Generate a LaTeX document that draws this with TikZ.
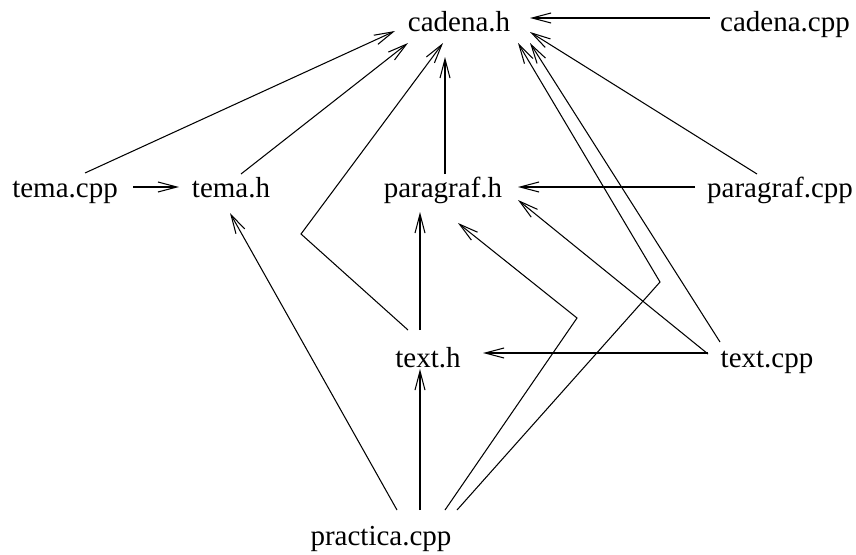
\documentclass[tikz,border=0pt]{standalone}
\usepackage{fontspec}
\setmainfont{Liberation Serif}
\usetikzlibrary{arrows.meta}
\begin{document}
\begin{tikzpicture}[x=1pt,y=-1pt,
  lbl/.style={anchor=base,inner sep=0pt,font=\fontsize{29}{34}\selectfont},
  arr/.style={draw=black,line width=1.05pt,line join=miter,
    -{Straight Barb[length=19pt,width=10pt,line width=1.05pt]}}]
\path[use as bounding box] (0,0) rectangle (856,554);
\node[lbl] (CH) at (459,31) {cadena.h};
\node[lbl] (CC) at (785,31) {cadena.cpp};
\node[lbl] (TC) at (65,197) {tema.cpp};
\node[lbl] (TH) at (231,197) {tema.h};
\node[lbl] (PH) at (443,197) {paragraf.h};
\node[lbl] (PC) at (780,197) {paragraf.cpp};
\node[lbl] (XH) at (428,367) {text.h};
\node[lbl] (XC) at (767,367) {text.cpp};
\node[lbl] (PR) at (381,545) {practica.cpp};
\coordinate (b1) at (301,234);
\coordinate (b2) at (577,318);
\coordinate (b3) at (660,282);
% edges
\draw[arr] ([shift={(-75,-13)}]CC.base) -- ([shift={(71,-13)}]CH.base);
\draw[arr] ([shift={(20,-24)}]TC.base) -- ([shift={(-64,0)}]CH.base);
\draw[arr] ([shift={(68,-10)}]TC.base) -- ([shift={(-52,-10)}]TH.base);
\draw[arr] ([shift={(10,-23)}]TH.base) -- ([shift={(-51,12)}]CH.base);
\draw[arr] ([shift={(2,-23)}]PH.base) -- ([shift={(-14,26)}]CH.base);
\draw[arr] ([shift={(-85,-10)}]PC.base) -- ([shift={(75,-10)}]PH.base);
\draw[arr] ([shift={(-23,-23)}]PC.base) -- ([shift={(71,1)}]CH.base);
\draw[arr] ([shift={(-8,-37)}]XH.base) -- ([shift={(-23,15)}]PH.base);
\draw[arr] ([shift={(-20,-37)}]XH.base) -- (b1) -- ([shift={(-16,12)}]CH.base);
\draw[arr] ([shift={(-59,-14)}]XC.base) -- ([shift={(55,-14)}]XH.base);
\draw[arr] ([shift={(-59,-13)}]XC.base) -- ([shift={(75,3)}]PH.base);
\draw[arr] ([shift={(-47,-25)}]XC.base) -- ([shift={(71,12)}]CH.base);
\draw[arr] ([shift={(39,-35)}]PR.base) -- ([shift={(-8,2)}]XH.base);
\draw[arr] ([shift={(16,-35)}]PR.base) -- ([shift={(-1,16)}]TH.base);
\draw[arr] ([shift={(64,-35)}]PR.base) -- (b2) -- ([shift={(15,26)}]PH.base);
\draw[arr] ([shift={(76,-35)}]PR.base) -- (b3) -- ([shift={(59,12)}]CH.base);
\end{tikzpicture}
\end{document}
